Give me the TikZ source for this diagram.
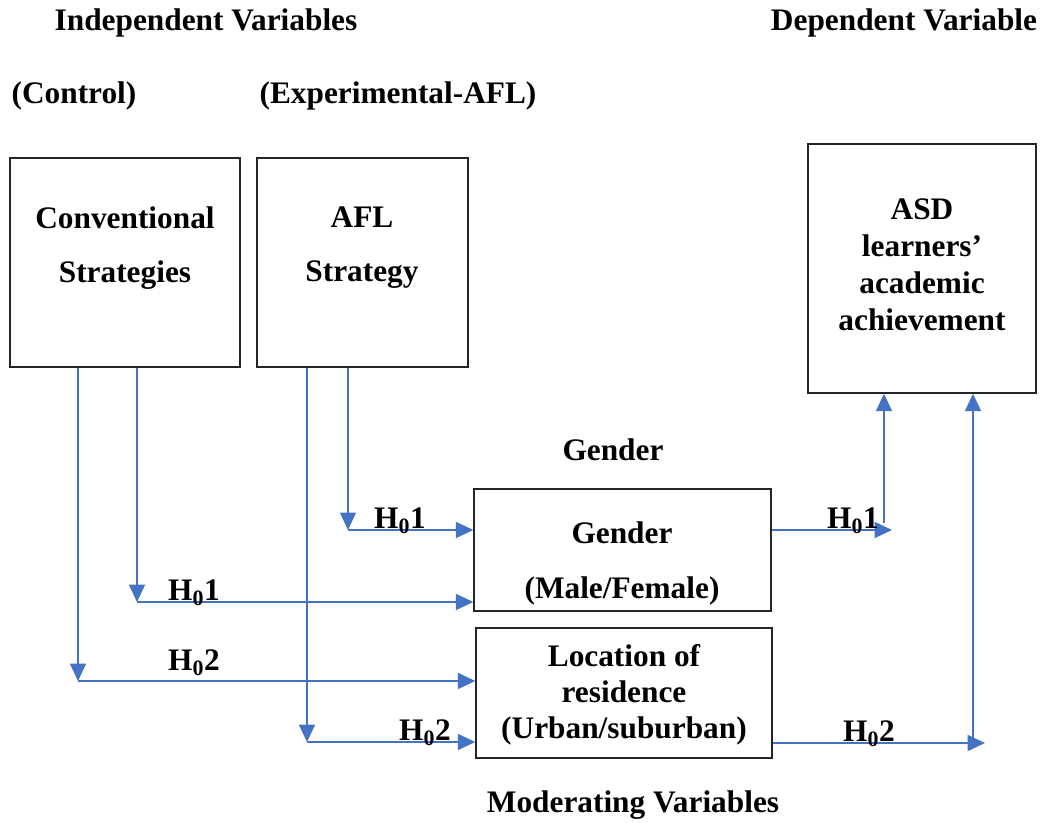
\documentclass[tikz,border=0pt]{standalone}
\usepackage{fontspec}
\setmainfont{Liberation Serif}
\usetikzlibrary{arrows.meta}
\definecolor{lineblue}{RGB}{68,114,196}
\tikzset{
  box/.style={draw=black!85, line width=1.1pt, inner sep=0pt},
  txt/.style={font=\fontsize{23.5}{28}\selectfont\bfseries, inner sep=0pt, align=center},
  hyp/.style={font=\fontsize{23.5}{28}\selectfont\bfseries, inner sep=0pt},
  arr/.style={draw=lineblue, line width=1.1pt, -{Triangle[length=13pt,width=12pt]}}
}
\newcommand{\Hz}[1]{H\textsubscript{0}#1}
\begin{document}
\begin{tikzpicture}[x=0.75pt,y=-0.75pt]
\useasboundingbox (0,0) rectangle (1043,823);
% headings
\node[txt] (hindep) at (206,23) {Independent Variables};
\node[txt] (hdep) at (904,23) {Dependent Variable};
\node[txt] (hctrl) at (74,96) {(Control)};
\node[txt] (hexp) at (398,96) {(Experimental-AFL)};
\node[txt] (hgen) at (613,450) {Gender};
\node[txt] (hmod) at (633,805) {Moderating Variables};
% boxes
\node[box, minimum width=172.5pt, minimum height=156.75pt] (conv) at (125,262.5) {};
\node[box, minimum width=158.25pt, minimum height=156.75pt] (afl) at (362.5,262.5) {};
\node[box, minimum width=171pt, minimum height=186.75pt] (asd) at (922,268.5) {};
\node[box, minimum width=222.75pt, minimum height=91.5pt] (gen) at (622.5,550) {};
\node[box, minimum width=222pt, minimum height=97.5pt] (loc) at (624,693) {};
% box texts
\node[txt, font=\fontsize{23.5}{40.5}\selectfont\bfseries] (convt) at (125,248) {Conventional\\Strategies};
\node[txt, font=\fontsize{23.5}{40.5}\selectfont\bfseries] (aflt) at (362,248) {AFL\\Strategy};
\node[txt, font=\fontsize{23.5}{27.75}\selectfont\bfseries] (asdt) at (922,265) {ASD\\learners'\\academic\\achievement};
\node[txt, font=\fontsize{23.5}{41.25}\selectfont\bfseries] (gent) at (622,563) {Gender\\(Male/Female)};
\node[txt, font=\fontsize{23.5}{27}\selectfont\bfseries] (loct) at (624,695) {Location of\\residence\\(Urban/suburban)};
% turning points
\coordinate (a1) at (78,681);
\coordinate (a2) at (137,602);
\coordinate (a3) at (307,742);
\coordinate (a4) at (348,530);
\coordinate (e1) at (892,530);
\coordinate (u1) at (884,523);
\coordinate (e2) at (985,743);
\coordinate (u2) at (973,743);
% connectors
\draw[arr] (conv.south -| a1) -- (a1);
\draw[arr] (a1) -- (a1 -| loc.west);
\draw[arr] (conv.south -| a2) -- (a2);
\draw[arr] (a2) -- (a2 -| gen.west);
\draw[arr] (afl.south -| a3) -- (a3);
\draw[arr] (a3) -- (a3 -| loc.west);
\draw[arr] (afl.south -| a4) -- (a4);
\draw[arr] (a4) -- (a4 -| gen.west);
\draw[arr] (gen.east |- e1) -- (e1);
\draw[arr] (u1) -- (u1 |- asd.south);
\draw[arr] (loc.east |- e2) -- (e2);
\draw[arr] (u2) -- (u2 |- asd.south);
% hypothesis labels
\node[hyp] (l1) at (400,521) {\Hz{1}};
\node[hyp] (l2) at (194,593) {\Hz{1}};
\node[hyp] (l3) at (853,521) {\Hz{1}};
\node[hyp] (l4) at (194,663) {\Hz{2}};
\node[hyp] (l5) at (425,733) {\Hz{2}};
\node[hyp] (l6) at (869,734) {\Hz{2}};
\end{tikzpicture}
\end{document}
